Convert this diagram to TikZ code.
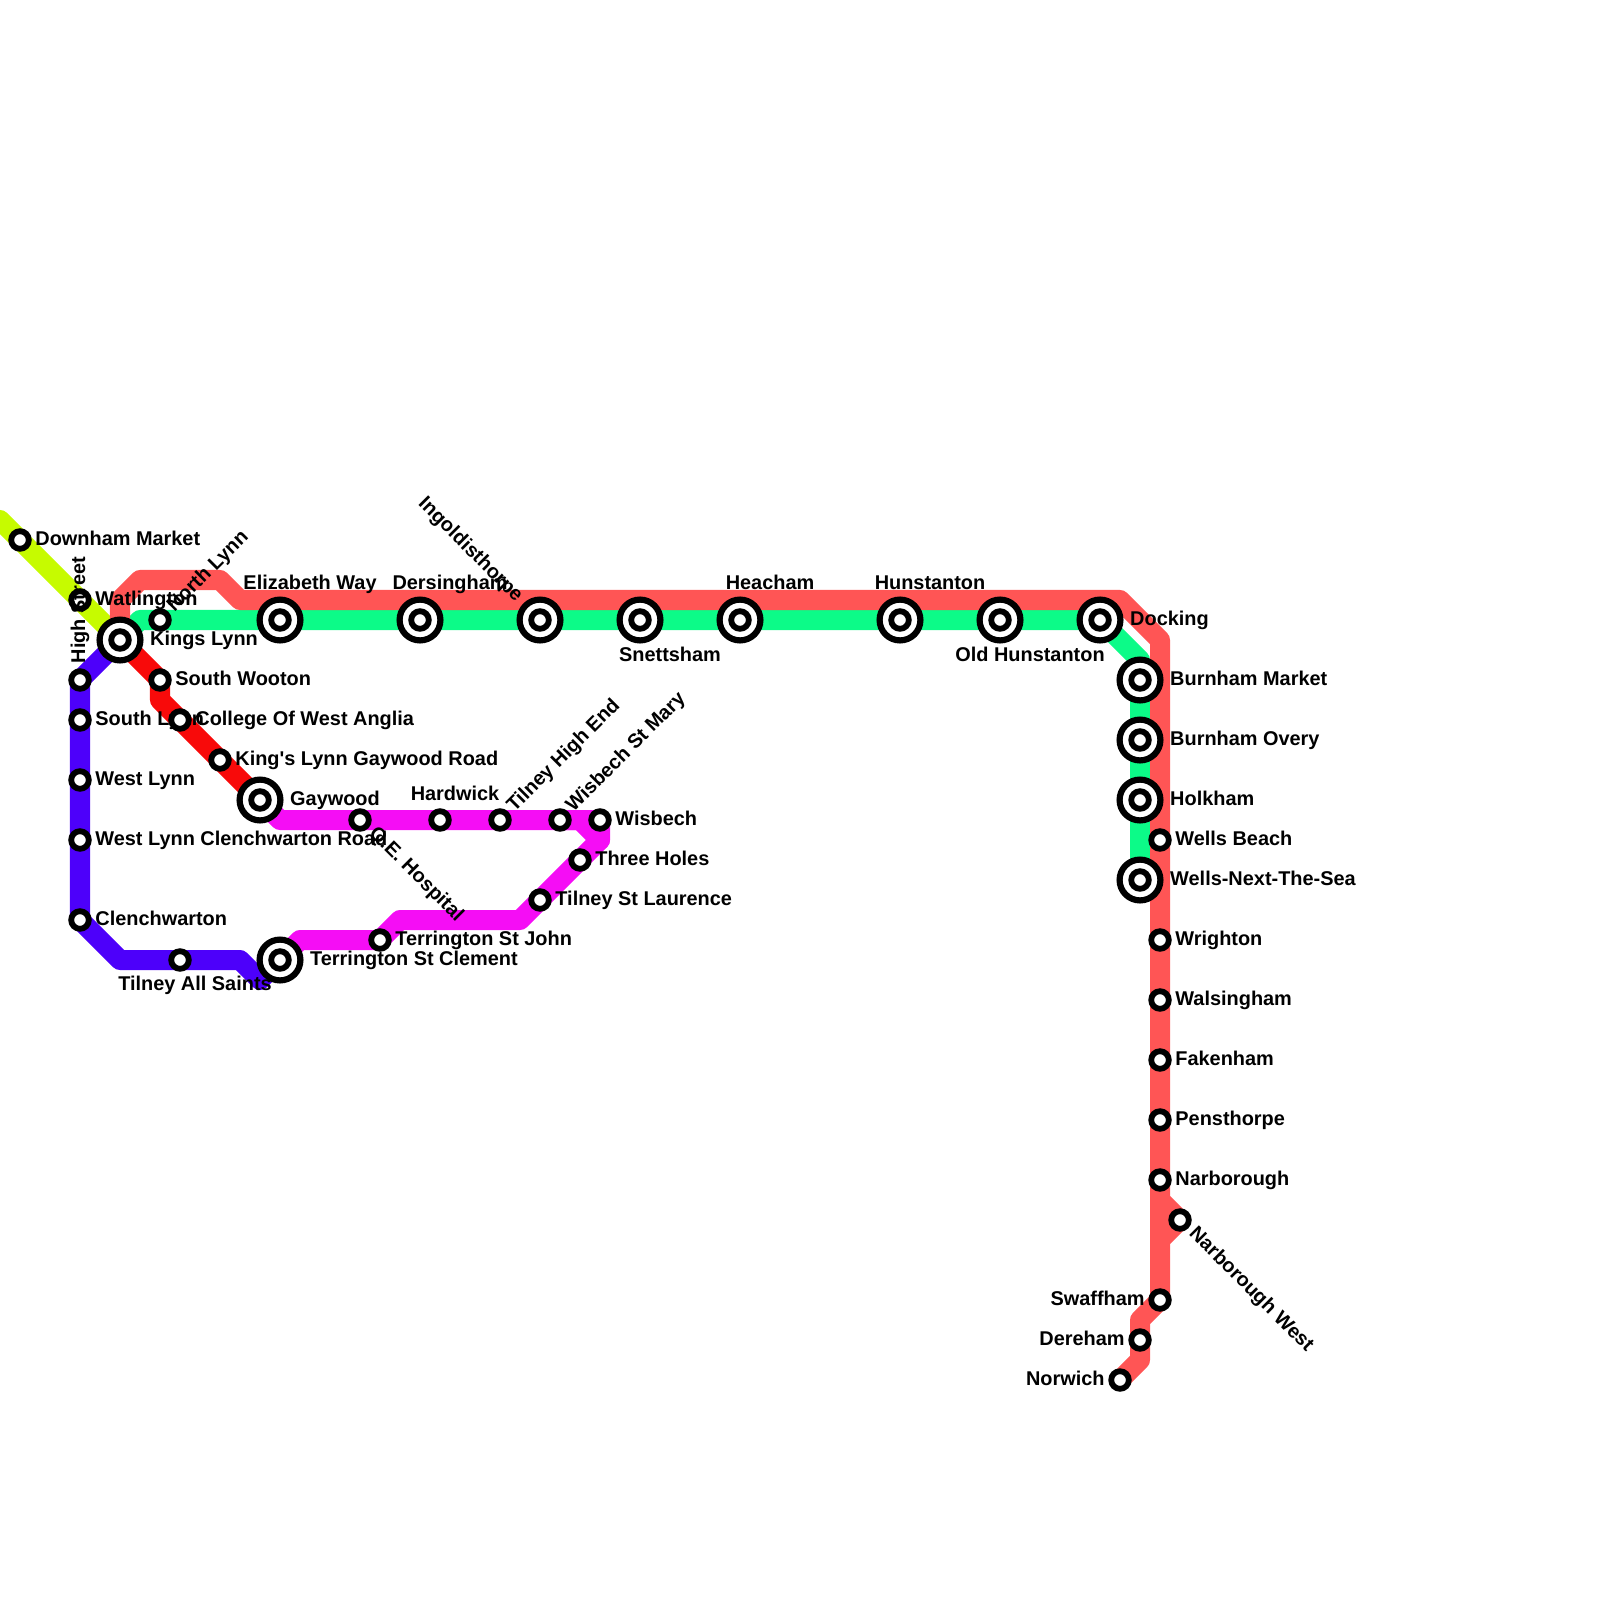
\documentclass[tikz,border=0pt]{standalone}
\usepackage{fontspec}
\setmainfont{Liberation Sans}
\usetikzlibrary{positioning, calc, backgrounds}
\definecolor{coralline}{HTML}{FF5555}
\definecolor{greenline}{HTML}{0CFB88}
\definecolor{purpleline}{HTML}{4D00FA}
\definecolor{magentaline}{HTML}{F50DF5}
\definecolor{redline}{HTML}{F80A0A}
\definecolor{limeline}{HTML}{C6FB00}
\tikzset{
  stn/.style={circle, draw=black, fill=white, line width=0.058cm,
              minimum size=0.176cm, inner sep=0pt},
  hub/.style={circle, draw=black, fill=white, line width=0.062cm,
              minimum size=0.408cm, inner sep=0pt,
              label={[stn]center:{}}},
  track/.style={line width=0.2cm, line join=round, line cap=round},
  lbl/.style={font=\fontsize{5.66pt}{6pt}\selectfont\bfseries, inner sep=0pt,
              text height=4.1pt, text depth=0pt},
  lbr/.style={lbl, yshift=0.02cm},
}

\begin{document}
\begin{tikzpicture}[x=0.01cm, y=-0.01cm]
  \useasboundingbox (0,0) rectangle (1600,1600);
  % Blue branch
  \node[stn] (downham) at (20,540) {};
  \node[lbr, right=0.03cm of downham] (downhamt) {Downham Market};
  \node[stn] (watlington) at (80,600) {};
  \node[lbr, right=0.03cm of watlington] (watlingtont) {Watlington};
  \node[stn] (highst) at (80,680) {};
  \node[lbl, anchor=west, rotate=90] (highstt) at ($(highst)+(-2,-16)$) {High Street};
  \node[stn] (southlynn) at (80,720) {};
  \node[lbr, right=0.03cm of southlynn] (southlynnt) {South Lynn};
  \node[stn] (westlynn) at (80,780) {};
  \node[lbr, right=0.03cm of westlynn] (westlynnt) {West Lynn};
  \node[stn] (clenroad) at (80,840) {};
  \node[lbr, right=0.03cm of clenroad] (clenroadt) {West Lynn Clenchwarton Road};
  \node[stn] (clench) at (80,920) {};
  \node[lbr, right=0.03cm of clench] (clencht) {Clenchwarton};
  \node[stn] (tilneyas) at (180,960) {};
  \node[lbl, below=0.04cm of tilneyas, xshift=0.15cm] (tilneyast) {Tilney All Saints};
  \node[hub] (tclement) at (280,960) {};
  \node[lbr, right=0.06cm of tclement] (tclementt) {Terrington St Clement};
  % Kings Lynn and the red branch
  \node[hub] (kings) at (120,640) {};
  \node[lbr, right=0.06cm of kings] (kingst) {Kings Lynn};
  \node[stn] (swooton) at (160,680) {};
  \node[lbr, right=0.03cm of swooton] (swootont) {South Wooton};
  \node[stn] (college) at (180,720) {};
  \node[lbr, right=0.03cm of college] (colleget) {College Of West Anglia};
  \node[stn] (gaywoodrd) at (220,760) {};
  \node[lbr, right=0.03cm of gaywoodrd] (gaywoodrdt) {King\textquotesingle s Lynn Gaywood Road};
  \node[hub] (gaywood) at (260,800) {};
  \node[lbr, right=0.06cm of gaywood] (gaywoodt) {Gaywood};
  % Magenta loop
  \node[stn] (qeh) at (360,820) {};
  \node[lbl, anchor=west, rotate=-45] (qeht) at ($(qeh)+(13,9)$) {Q.E. Hospital};
  \node[stn] (hardwick) at (440,820) {};
  \node[lbl, above=0.07cm of hardwick, xshift=0.15cm] (hardwickt) {Hardwick};
  \node[stn] (thighend) at (500,820) {};
  \node[lbl, anchor=west, rotate=45] (thighendt) at ($(thighend)+(9,-12)$) {Tilney High End};
  \node[stn] (wstmary) at (560,820) {};
  \node[lbl, anchor=west, rotate=45] (wstmaryt) at ($(wstmary)+(8,-12)$) {Wisbech St Mary};
  \node[stn] (wisbech) at (600,820) {};
  \node[lbr, right=0.03cm of wisbech] (wisbecht) {Wisbech};
  \node[stn] (threeholes) at (580,860) {};
  \node[lbr, right=0.03cm of threeholes] (threeholest) {Three Holes};
  \node[stn] (tstlaur) at (540,900) {};
  \node[lbr, right=0.03cm of tstlaur] (tstlaurt) {Tilney St Laurence};
  \node[stn] (tjohn) at (380,940) {};
  \node[lbr, right=0.03cm of tjohn] (tjohnt) {Terrington St John};
  % Green main line
  \node[stn] (northlynn) at (160,620) {};
  \node[lbl, anchor=west, rotate=45] (northlynnt) at ($(northlynn)+(9,-12)$) {North Lynn};
  \node[hub] (elizabeth) at (280,620) {};
  \node[lbl, above=0.063cm of elizabeth, xshift=0.3cm] (elizabetht) {Elizabeth Way};
  \node[hub] (dersingham) at (420,620) {};
  \node[lbl, above=0.063cm of dersingham, xshift=0.3cm] (dersinghamt) {Dersingham};
  \node[hub] (ingold) at (540,620) {};
  \node[lbl, anchor=east, rotate=-45] (ingoldt) at ($(ingold)+(-19,-22)$) {Ingoldisthorpe};
  \node[hub] (snettsham) at (640,620) {};
  \node[lbl, below=0.033cm of snettsham, xshift=0.3cm] (snettshamt) {Snettsham};
  \node[hub] (heacham) at (740,620) {};
  \node[lbl, above=0.063cm of heacham, xshift=0.3cm] (heachamt) {Heacham};
  \node[hub] (hunstanton) at (900,620) {};
  \node[lbl, above=0.063cm of hunstanton, xshift=0.3cm] (hunstantont) {Hunstanton};
  \node[hub] (oldhun) at (1000,620) {};
  \node[lbl, below=0.033cm of oldhun, xshift=0.3cm] (oldhunt) {Old Hunstanton};
  \node[hub] (docking) at (1100,620) {};
  \node[lbr, right=0.06cm of docking] (dockingt) {Docking};
  \node[hub] (bmarket) at (1140,680) {};
  \node[lbr, right=0.06cm of bmarket] (bmarkett) {Burnham Market};
  \node[hub] (bovery) at (1140,740) {};
  \node[lbr, right=0.06cm of bovery] (boveryt) {Burnham Overy};
  \node[hub] (holkham) at (1140,800) {};
  \node[lbr, right=0.06cm of holkham] (holkhamt) {Holkham};
  \node[hub] (wells) at (1140,880) {};
  \node[lbr, right=0.06cm of wells] (wellst) {Wells-Next-The-Sea};
  % Coral line going south
  \node[stn] (wbeach) at (1160,840) {};
  \node[lbr, right=0.03cm of wbeach] (wbeacht) {Wells Beach};
  \node[stn] (wrighton) at (1160,940) {};
  \node[lbr, right=0.03cm of wrighton] (wrightont) {Wrighton};
  \node[stn] (walsingham) at (1160,1000) {};
  \node[lbr, right=0.03cm of walsingham] (walsinghamt) {Walsingham};
  \node[stn] (fakenham) at (1160,1060) {};
  \node[lbr, right=0.03cm of fakenham] (fakenhamt) {Fakenham};
  \node[stn] (pensthorpe) at (1160,1120) {};
  \node[lbr, right=0.03cm of pensthorpe] (pensthorpet) {Pensthorpe};
  \node[stn] (narborough) at (1160,1180) {};
  \node[lbr, right=0.03cm of narborough] (narborought) {Narborough};
  \node[stn] (narwest) at (1180,1220) {};
  \node[lbl, anchor=west, rotate=-45] (narwestt) at ($(narwest)+(13,9)$) {Narborough West};
  \node[stn] (swaffham) at (1160,1300) {};
  \node[lbr, left=0.03cm of swaffham] (swaffhamt) {Swaffham};
  \node[stn] (dereham) at (1140,1340) {};
  \node[lbr, left=0.03cm of dereham] (derehamt) {Dereham};
  \node[stn] (norwich) at (1120,1380) {};
  \node[lbr, left=0.03cm of norwich] (norwicht) {Norwich};
  % Tracks
  \begin{scope}[on background layer]
    \coordinate (limestart) at (0,520);
    \draw[track, limeline] (limestart) -- (kings.center);
    \draw[track, purpleline] (kings.center) -- (highst.center) -- (clench.center)
      -- ++(40,40) -- ++(120,0) -- ++(20,20) -- (tclement.center);
    \draw[track, redline] (kings.center) -- (swooton.center) -- ++(0,20)
      -- (gaywood.center);
    \draw[track, magentaline] (gaywood.center) -- ++(20,20) -- (wisbech.center)
      -- ++(0,20) -- (tstlaur.center) -- ++(-20,20) -- ++(-120,0)
      -- (tjohn.center) -- ++(-80,0) -- (tclement.center);
    \draw[track, magentaline] (wstmary.center) -- ++(20,0) -- ++(20,20);
    \draw[track, greenline] (kings.center) -- ++(20,-20) -- (docking.center)
      -- ++(40,40) -- (wells.center);
    \draw[track, coralline] (kings.center) -- ++(0,-40) -- ++(20,-20) -- ++(80,0)
      -- ++(20,20) -- ++(880,0) -- ++(40,40) -- (narborough.center) -- ++(0,20)
      -- (narwest.center) -- ++(-20,20) -- (swaffham.center) -- ++(-20,20)
      -- ++(0,40) -- (norwich.center);
    \draw[track, coralline] (narborough.center) -- (swaffham.center);
  \end{scope}
\end{tikzpicture}
\end{document}
